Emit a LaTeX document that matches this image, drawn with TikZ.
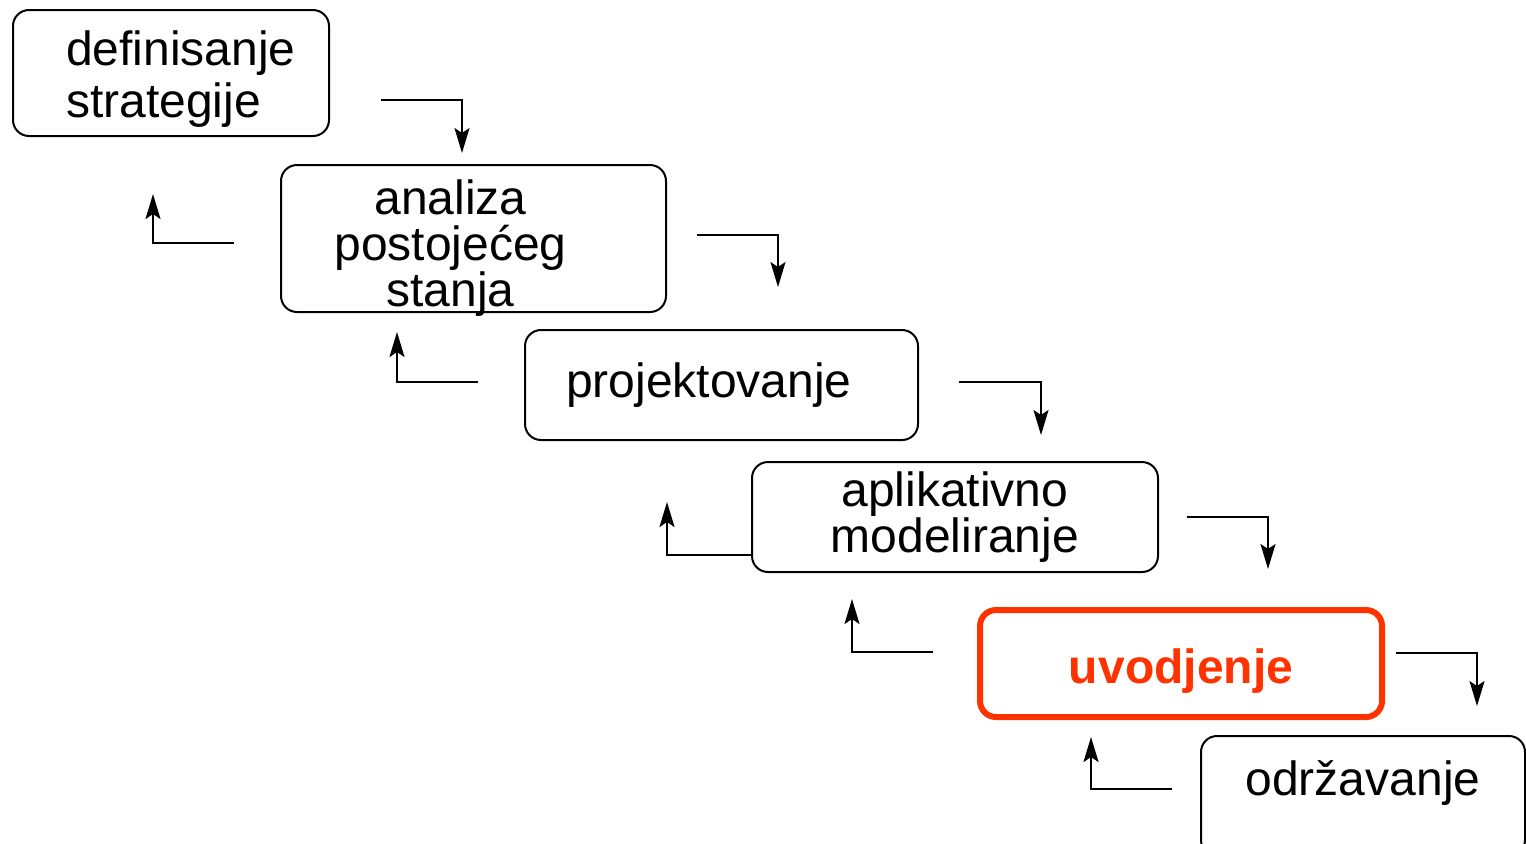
\documentclass[tikz,border=0pt]{standalone}
\usepackage{fontspec}
\setmainfont{Liberation Sans}
\usetikzlibrary{positioning}
\usetikzlibrary{arrows.meta,calc}
\tikzset{line/.style={draw, line width=1pt, -{Stealth[length=12.5pt,width=7.5pt,inset=2.5pt]}}}
\definecolor{uvodred}{RGB}{255,51,0}

\begin{document}
\begin{tikzpicture}[x=0.5pt,y=-0.5pt]
\tikzstyle{block} = [rectangle, rounded corners=8pt, draw, line width=1pt, inner sep=0pt, minimum height=55pt, font=\fontsize{24pt}{23pt}\selectfont]
\tikzstyle{txt} = [inner sep=0pt, font=\fontsize{24pt}{23pt}\selectfont]
\clip (0,0) rectangle (1526,843);

% blocks
    \node [block, minimum width=158pt, minimum height=63pt, text width=105pt, inner xsep=26.5pt, align=left, text height=20pt, text depth=28pt, font=\fontsize{24pt}{26pt}\selectfont] (definisanje) at (171,73) {definisanje\\strategije};
    \node [block, minimum width=192.5pt, minimum height=73.5pt] (analiza) at (473.5,238.5) {};
    \node [txt, align=center] (analizatxt) at ($(analiza)+(-23,10)$) {analiza\\postoje\'{c}eg\\stanja};
    \node [block, minimum width=196.5pt, text width=155.5pt, inner xsep=20.5pt, align=left] (projekt) at (721.5,385) {projektovanje};
    \node [block, minimum width=203pt, align=center] (modeli) at (955,517) {aplikativno\\modeliranje};
    \node [block, draw=uvodred, line width=3pt, text=uvodred, minimum width=201pt, minimum height=53.5pt, text height=21pt, text depth=1.5pt, font=\fontsize{24pt}{23pt}\selectfont\bfseries] (uvod) at (1181,663.5) {uvodjenje};
    \node [block, minimum width=162pt, minimum height=60pt, text height=12pt, text depth=12.5pt] (odrz) at (1363,796) {održavanje};
% arrows
    \coordinate (down1a) at (381,100);  \coordinate (down1b) at (462,153);
    \coordinate (up1a) at (234,243);    \coordinate (up1b) at (153,194);
    \coordinate (down2a) at (697,235);  \coordinate (down2b) at (778,287);
    \coordinate (up2a) at (478,382);    \coordinate (up2b) at (397,332);
    \coordinate (down3a) at (959,382);  \coordinate (down3b) at (1041,435);
    \coordinate (up3b) at (667,502);
    \coordinate (down4a) at (1187,517); \coordinate (down4b) at (1268,569);
    \coordinate (up4a) at (933,652);    \coordinate (up4b) at (852,599);
    \coordinate (down5a) at (1396,653); \coordinate (down5b) at (1477,706);
    \coordinate (up5a) at (1172,789);   \coordinate (up5b) at (1091,737);
    \path [line] (down1a) -| (down1b);
    \path [line] (up1a) -| (up1b);
    \path [line] (down2a) -| (down2b);
    \path [line] (up2a) -| (up2b);
    \path [line] (down3a) -| (down3b);
    \path [line] ($(modeli.west)+(0,38)$) -| (up3b);
    \path [line] (down4a) -| (down4b);
    \path [line] (up4a) -| (up4b);
    \path [line] (down5a) -| (down5b);
    \path [line] (up5a) -| (up5b);
\end{tikzpicture}
\end{document}
